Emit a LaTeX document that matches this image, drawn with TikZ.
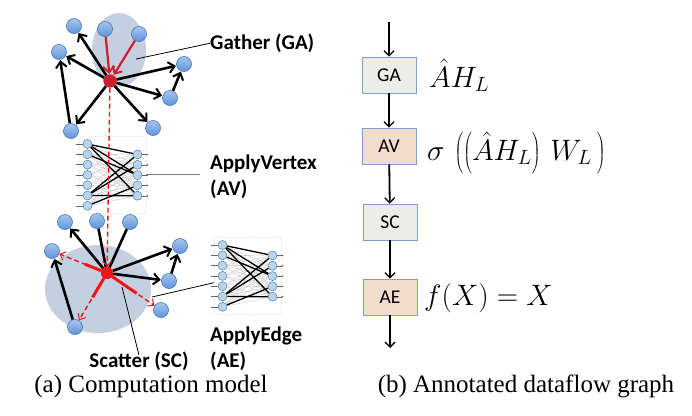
\documentclass[tikz,border=0pt]{standalone}
\usepackage{fix-cm}
\usepackage[no-math]{fontspec}
\setmainfont{Liberation Serif}
\newfontfamily\lblfont{Carlito}
\usepackage{tikz}
\usetikzlibrary{arrows.meta,calc}
\definecolor{vblue}{HTML}{5F95DC}
\definecolor{vblueline}{HTML}{4676B6}
\definecolor{nnblue}{HTML}{B7D5EE}
\definecolor{nnline}{HTML}{587D9E}
\definecolor{blobgray}{HTML}{C4D0E0}
\definecolor{gared}{HTML}{CC1F2E}
\definecolor{scred}{HTML}{F2141A}
\definecolor{opgray}{HTML}{ECECE9}
\definecolor{oppeach}{HTML}{F2DCCB}
\definecolor{opline}{HTML}{7F9FCC}

\begin{document}
\begin{tikzpicture}[x=1pt, y=-1pt,
  vtx/.style={circle, inner sep=0pt, minimum size=15pt, top color=vblue!55!white, bottom color=vblue, draw=vblueline, line width=0.6pt},
  hub/.style={circle, inner sep=0pt, minimum size=13pt, fill=#1},
  arr/.style={-{Straight Barb[length=6pt,width=11pt,line width=2pt]}, line width=2.6pt, shorten >=0.5pt},
  redarr/.style={arr, gared, line width=2.2pt},
  reddash/.style={-{Straight Barb[length=5pt,width=9pt,line width=1pt]}, scred, dashed, dash pattern=on 5pt off 3pt, line width=1.4pt},
  redthick/.style={scred, line width=3pt},
  pointer/.style={line width=0.8pt},
  nnframe/.style={draw=gray!70, densely dotted, rounded corners=3pt, fill=white, inner sep=0pt, minimum width=67pt, minimum height=77pt},
  nnvtx/.style={circle, inner sep=0pt, minimum size=9pt, fill=nnblue, draw=nnline, line width=0.5pt},
  nnthin/.style={gray!45, line width=0.35pt},
  nnbold/.style={black, line width=1.3pt},
  nntick/.style={gray!80!black, line width=0.4pt},
  opbox/.style={draw=opline, line width=0.8pt, inner sep=0pt, minimum width=54pt, minimum height=36pt, font=\lblfont\fontsize{19.5}{21}\selectfont},
  flow/.style={-{Straight Barb[length=5pt,width=10pt,line width=1.3pt]}, line width=1.8pt},
  lbl/.style={inner sep=0pt, align=left, font=\lblfont\bfseries\fontsize{21}{25.5}\selectfont},
  eq/.style={inner sep=0pt, anchor=base west, font=\fontsize{29.5}{32}\selectfont},
  capt/.style={inner sep=0pt, anchor=base, font=\fontsize{25}{28}\selectfont}
]
\useasboundingbox (0,0) rectangle (692,415);

% shaded regions
\fill[blobgray] (119,50) ellipse [x radius=27pt, y radius=37pt];
\fill[blobgray] (98,289) ellipse [x radius=53pt, y radius=44pt];

% the two small networks (AV, AE)
\foreach \nn/\ox/\oy in {av/79/136, ae/214/237}{
  \node[nnframe, anchor=north west] (\nn box) at (\ox,\oy) {};
  \foreach \i in {1,...,7}
    \node[nnvtx] (\nn l\i) at (\ox+8.5, \oy+8+10.3*\i-10.3) {};
  \foreach \j in {1,...,5}
    \node[nnvtx] (\nn r\j) at (\ox+58.5, \oy+18.5+10.3*\j-10.3) {};
  \foreach \i in {1,...,7}
    \foreach \j in {1,...,5}
      \draw[nnthin] (\nn l\i) -- (\nn r\j);
  \foreach \i/\j in {1/1,1/3,1/5,2/3,6/1,6/2,6/5,7/4}
    \draw[nnbold] (\nn l\i) -- (\nn r\j);
  \foreach \i in {1,...,7}
    \draw[nntick] (\nn l\i.west) -- ++(-7,0);
  \foreach \j in {1,...,5}
    \draw[nntick, -{Circle[length=1.5pt]}] (\nn r\j.east) -- ++(6,0);
}

% gather graph
\node[hub=gared] (gc) at (110,81) {};
\node[vtx] (g1) at (74,26) {};
\node[vtx] (g2) at (105,29) {};
\node[vtx] (g3) at (139,34) {};
\node[vtx] (g4) at (59,52) {};
\node[vtx] (g5) at (184,64) {};
\node[vtx] (g6) at (170,98) {};
\node[vtx] (g7) at (71,131) {};
\node[vtx] (g8) at (153,128) {};
\draw[redarr] (g2) -- (gc);
\draw[redarr] (g3) -- (gc);
\foreach \t in {g1,g4,g5,g6,g7,g8}
  \draw[arr] (gc) -- (\t);
\draw[arr] (g6) -- (g5);
\draw[arr] (g7) -- (g4);

% scatter graph
\node[hub=scred, minimum size=12pt] (sc) at (107,273) {};
\node[vtx] (s1) at (65,222) {};
\node[vtx] (s2) at (97,221) {};
\node[vtx] (s3) at (130,222) {};
\node[vtx] (s4) at (52,251) {};
\node[vtx] (s5) at (180,246) {};
\node[vtx] (s6) at (169,281) {};
\node[vtx] (s7) at (161,310) {};
\node[vtx] (s8) at (75,327) {};
\draw[arr] (sc) -- (s1);
\draw[line width=2.6pt] (s2) -- (sc);
\draw[line width=2.6pt] (s3) -- (sc);
\draw[arr] (sc) -- (s5);
\draw[arr] (sc) -- (s6);
\draw[arr] (s6) -- (s5);
\draw[arr] (s8) -- (s4);
\foreach \t/\f in {s4/0.4,s8/0.45,s7/0.55}{
  \draw[redthick] (sc) -- ($(sc)!\f!(\t)$);
  \draw[reddash] (sc) -- (\t);
}
\draw[reddash] (gc) -- (sc);
\node[hub=scred, minimum size=12pt] at (sc) {};
\node[hub=gared] at (gc) {};

% labels of the left panel
\coordinate (gapt) at (136,59);
\coordinate (aept) at (152,297);
\coordinate (scpt) at (122,287);
\node[lbl, anchor=base west] (galbl) at (210,49.5) {Gather (GA)};
\node[lbl, anchor=north west] (avlbl) at (210,155) {ApplyVertex\\(AV)};
\node[lbl, anchor=north west] (aelbl) at (210,327) {ApplyEdge\\(AE)};
\node[lbl, anchor=base] (sclbl) at (139,367) {Scatter (SC)};
\draw[pointer] (gapt) -- (galbl.west);
\draw[pointer, gray] (avbox.east) -- ([xshift=-10pt]avbox.east -| avlbl.west);
\draw[pointer] (aept) -- ([yshift=-7pt]aebox.west);
\draw[pointer] (scpt) -- ([yshift=-4pt]sclbl.north);

% annotated dataflow graph
\node[opbox, fill=opgray] (ga) at (389,75) {GA};
\node[opbox, fill=oppeach] (av) at (389,146) {AV};
\node[opbox, fill=opgray] (scb) at (390,222) {SC};
\node[opbox, fill=oppeach] (ae) at (390,297) {AE};
\coordinate (flowin) at (389,22);
\coordinate (flowout) at (390,348);
\draw[flow] (flowin) -- (ga);
\draw[flow] (ga) -- (av);
\draw[flow] (av) -- (scb);
\draw[flow] (scb) -- (ae);
\draw[flow] (ae) -- (flowout);
\node[eq] (gaeq) at (429,87) {$\hat{A}H_L$};
\node[eq] (aveq) at (427,160) {$\sigma\,\left(\left(\hat{A}H_L\vrule height 28.5pt depth 0pt width 0pt\right)\,W_L\,\right)$};
\node[eq] (aeeq) at (424,305) {$f(X) = X$};

% captions
\node[capt] (capa) at (151,392) {(a) Computation model};
\node[capt] (capb) at (526,392) {(b) Annotated dataflow graph};
\end{tikzpicture}
\end{document}
